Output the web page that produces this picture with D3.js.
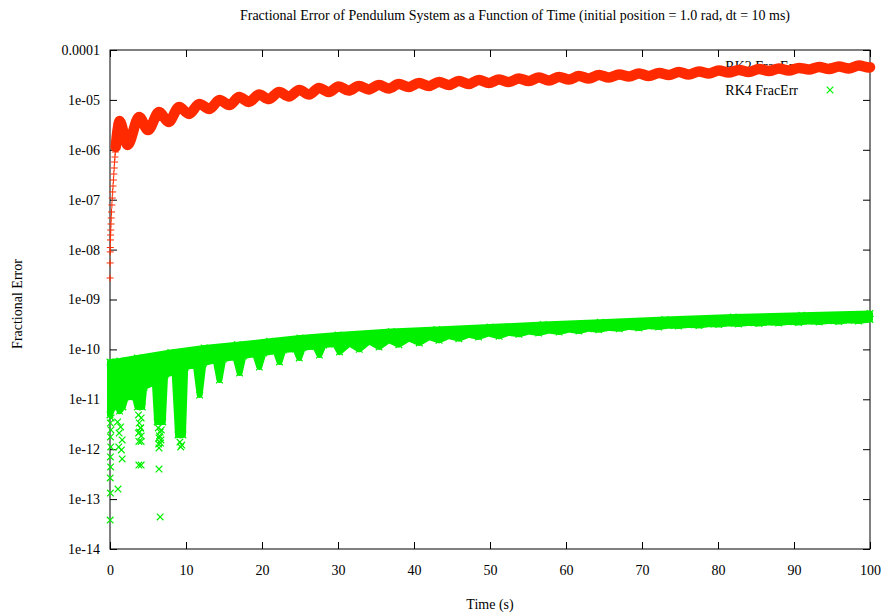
<!DOCTYPE html>
<html>
<head>
<meta charset="utf-8">
<script src="https://cdn.jsdelivr.net/npm/d3@7/dist/d3.min.js"></script>
<style>
  body { margin: 0; background: #fff; }
  svg text { font-family: "Liberation Serif", "Times New Roman", serif !important; fill: #000; }
</style>
</head>
<body>
<svg id="chart" width="884" height="616"></svg>
<script>
// ---- axis ticks ----
const xTicks = [0, 10, 20, 30, 40, 50, 60, 70, 80, 90, 100];
const yTicks = [1e-14, 1e-13, 1e-12, 1e-11, 1e-10, 1e-9, 1e-8, 1e-7, 1e-6, 1e-5, 1e-4];
const yTickLabels = ["1e-14", "1e-13", "1e-12", "1e-11", "1e-10", "1e-09", "1e-08", "1e-07", "1e-06", "1e-05", "0.0001"];

// ---- RK2 fractional error: start-up points, then the oscillating trace ----
const rk2StartT = [0.01, 0.02, 0.03, 0.04, 0.06, 0.08, 0.10, 0.13, 0.16, 0.20, 0.25, 0.30, 0.35, 0.40, 0.45, 0.50, 0.55, 0.60, 0.65, 0.70];
const rk2StartV = [2.7e-9, 5.4e-9, 9.0e-9, 1.1e-8, 1.56e-8, 1.96e-8, 2.47e-8, 3.26e-8, 4.30e-8, 5.67e-8, 7.83e-8, 1.08e-7, 1.43e-7, 1.88e-7, 2.48e-7, 3.27e-7, 4.32e-7, 5.69e-7, 7.17e-7, 9.04e-7];
const rk2T = [0.75, 0.85, 0.95, 1.05, 1.15, 1.25, 2.3, 3.83, 5.0, 6.46, 7.7, 9.1, 10.4, 11.75, 13.1, 14.4, 15.7, 17.0, 18.3,
  19.6, 20.9, 22.25, 23.55, 24.9, 26.2, 27.5, 28.8, 30.1, 31.4, 32.75, 34.05, 35.4, 36.7, 38.0, 39.3, 40.65, 41.95,
  43.3, 44.6, 45.9, 47.2, 48.55, 49.85, 51.2, 52.5, 53.8, 55.1, 56.45, 57.75, 59.1, 60.4, 61.7, 63.0, 64.35, 65.65,
  67.0, 68.3, 69.6, 70.9, 72.25, 73.55, 74.85, 76.15, 77.5, 78.8, 80.1, 81.4, 82.75, 84.05, 85.4, 86.7, 88.0, 89.3,
  90.65, 91.95, 93.3, 94.6, 95.9, 97.2, 98.55, 99.85, 100];
const rk2V = [1.14e-6, 1.6e-6, 2.2e-6, 2.8e-6, 3.4e-6, 3.78e-6, 1.25e-6, 4.54e-6, 2.49e-6, 5.72e-6, 3.61e-6, 7.21e-6, 5.22e-6, 8.28e-6, 6.57e-6, 9.95e-6, 7.90e-6, 1.14e-5, 9.08e-6,
  1.28e-5, 1.04e-5, 1.44e-5, 1.17e-5, 1.58e-5, 1.28e-5, 1.73e-5, 1.44e-5, 1.86e-5, 1.54e-5, 1.90e-5, 1.62e-5, 1.99e-5, 1.69e-5, 2.08e-5, 1.81e-5, 2.18e-5, 1.90e-5,
  2.28e-5, 1.99e-5, 2.39e-5, 2.08e-5, 2.51e-5, 2.18e-5, 2.56e-5, 2.28e-5, 2.69e-5, 2.39e-5, 2.81e-5, 2.45e-5, 2.88e-5, 2.56e-5, 3.01e-5, 2.69e-5, 3.15e-5, 2.81e-5,
  3.23e-5, 2.94e-5, 3.38e-5, 3.01e-5, 3.46e-5, 3.15e-5, 3.62e-5, 3.23e-5, 3.71e-5, 3.38e-5, 3.88e-5, 3.54e-5, 3.97e-5, 3.62e-5, 4.16e-5, 3.80e-5, 4.26e-5, 3.88e-5,
  4.36e-5, 4.07e-5, 4.56e-5, 4.16e-5, 4.67e-5, 4.26e-5, 4.89e-5, 4.46e-5, 4.50e-5];

// ---- RK4 fractional error: upper and lower edge of the dense band ----
const rk4UpperT = [0, 1.3, 3.6, 8, 12.4, 16.75, 21, 25, 30, 37, 43, 50, 57, 64.5, 73, 82, 91, 100];
const rk4UpperV = [5.59e-11, 5.86e-11, 6.73e-11, 8.67e-11, 1.067e-10, 1.242e-10, 1.453e-10, 1.692e-10, 1.943e-10, 2.284e-10, 2.505e-10, 2.811e-10, 3.155e-10, 3.492e-10, 3.973e-10, 4.459e-10, 4.824e-10, 5.242e-10];
const rk4LowerT = [0.0, 0.4, 0.9, 1.25, 1.7, 2.1, 3.3, 3.6, 4.25, 4.5, 5.9, 6.2, 6.95, 7.25, 8.5, 8.95, 9.6, 9.9, 11.3, 11.8, 12.3,
  13.9, 14.4, 14.9, 16.5, 17.05, 17.55, 19.1, 19.65, 20.2, 21.8, 22.3, 22.8, 24.4, 24.9, 25.4, 27.0, 27.55, 28.1, 29.6,
  30.2, 31.5, 32.8, 34.1, 35.4, 36.7, 38.0, 39.35, 40.7, 42.0, 43.3, 44.6, 45.9, 47.2, 48.5, 49.85, 51.2, 52.5, 53.8,
  55.1, 56.4, 57.75, 59.1, 60.4, 61.7, 63.0, 64.3, 65.65, 67.0, 68.3, 69.6, 70.9, 72.2, 73.55, 74.8, 76.15, 77.5, 78.8,
  80.1, 81.4, 82.7, 84.05, 85.4, 86.7, 88.0, 89.3, 90.6, 91.95, 93.3, 94.6, 95.9, 97.2, 98.5, 100];
const rk4LowerV = [4.85e-12, 7.01e-12, 8.83e-12, 5.8e-12, 7.01e-12, 1.112e-11, 1.112e-11, 7.01e-12, 7.01e-12, 1.764e-11, 2.222e-11, 3.51e-12, 3.51e-12, 3.069e-11, 3.525e-11, 1.926e-12, 1.926e-12, 4.439e-11, 4.868e-11, 1.219e-11, 5.339e-11,
  6.132e-11, 2.437e-11, 6.422e-11, 7.042e-11, 3.366e-11, 7.375e-11, 8.088e-11, 4.439e-11, 8.470e-11, 9.288e-11, 5.592e-11, 9.727e-11, 1.019e-10, 6.725e-11, 1.092e-10, 1.143e-10, 7.723e-11, 1.225e-10, 1.283e-10,
  8.870e-11, 1.313e-10, 1.005e-10, 1.440e-10, 1.117e-10, 1.543e-10, 1.242e-10, 1.654e-10, 1.344e-10, 1.756e-10, 1.522e-10, 1.856e-10, 1.638e-10, 1.971e-10, 1.772e-10, 2.083e-10, 1.830e-10, 2.161e-10, 2.007e-10,
  2.284e-10, 2.132e-10, 2.392e-10, 2.232e-10, 2.505e-10, 2.338e-10, 2.599e-10, 2.482e-10, 2.722e-10, 2.599e-10, 2.850e-10, 2.685e-10, 2.944e-10, 2.811e-10, 3.013e-10, 2.944e-10, 3.126e-10, 3.013e-10, 3.229e-10,
  3.155e-10, 3.350e-10, 3.229e-10, 3.428e-10, 3.304e-10, 3.508e-10, 3.381e-10, 3.590e-10, 3.460e-10, 3.674e-10, 3.541e-10, 3.759e-10, 3.623e-10, 3.847e-10, 3.708e-10, 3.974e-10];
// ---- RK4 scattered low points (near the zero crossings) ----
const rk4SparseT = [0.02, 0.05, 0.03, 0.08, 0.05, 0.10, 0.06, 0.12, 0.15, 0.05,
  1.05, 1.6, 1.6, 1.2, 1.4, 1.0, 1.15, 1.5,
  3.8, 4.1, 3.8, 4.1, 3.9, 4.0, 3.75, 4.1, 3.85, 4.05, 3.75, 4.1,
  6.45, 6.6, 6.45, 6.65, 6.45, 6.6, 6.35, 6.75, 6.5, 6.7, 6.4,
  9.2, 9.45, 9.3];
const rk4SparseV = [3.81e-14, 1.32e-13, 2.65e-13, 4.40e-13, 6.98e-13, 1.11e-12, 1.76e-12, 2.43e-12, 4.22e-12, 3.35e-12,
  1.59e-13, 6.37e-13, 1.53e-12, 2.11e-12, 2.79e-12, 3.51e-12, 1.107e-12, 9.64e-13,
  4.82e-13, 4.82e-13, 1.43e-12, 1.43e-12, 2.21e-12, 2.66e-12, 4.85e-12, 4.22e-12, 3.35e-12, 2.66e-12, 2.11e-12, 1.84e-12,
  4.01e-13, 4.38e-14, 1.06e-12, 1.33e-12, 1.68e-12, 2.21e-12, 2.66e-12, 2.43e-12, 1.84e-12, 1.53e-12, 1.27e-12,
  1.39e-12, 1.21e-12, 1.11e-12];

const seriesNames = ["RK2 FracErr", "RK4 FracErr"];
const titleText = "Fractional Error of Pendulum System as a Function of Time (initial position = 1.0 rad, dt = 10 ms)";

// ---- layout ----
const RED = "#ff2a00", GREEN = "#00f000";
const FONT = "Liberation Serif, Times New Roman, serif";
const svg = d3.select("#chart");
const x = d3.scaleLinear().domain([0, 100]).range([110, 870]);
const y = d3.scaleLog().domain([1e-14, 1e-4]).range([549, 50]);
const zip = (ts, vs) => ts.map((t, i) => ({ t, v: vs[i] }));

const plusPath = "M-3.5,0H3.5M0,-3.5V3.5";
const crossPath = "M-3.3,-3.3L3.3,3.3M-3.3,3.3L3.3,-3.3";

// frame
svg.append("rect").attr("x", 110).attr("y", 50).attr("width", 760).attr("height", 499)
  .attr("fill", "none").attr("stroke", "#000").attr("stroke-width", 1);

// axes with inward ticks, mirrored on top/right
const tickLen = 7;
const styleAxis = g => {
  g.attr("font-family", FONT);
  g.select(".domain").remove();
  g.selectAll("text").attr("font-size", 14).style("font-family", FONT);
};
svg.append("g").attr("transform", "translate(0,549)")
  .call(d3.axisBottom(x).tickValues(xTicks).tickFormat(d3.format("d")).tickSizeInner(-tickLen).tickSizeOuter(0).tickPadding(16))
  .call(styleAxis);
svg.append("g").attr("transform", "translate(0,50)")
  .call(d3.axisTop(x).tickValues(xTicks).tickFormat("").tickSizeInner(-tickLen).tickSizeOuter(0))
  .call(styleAxis);
svg.append("g").attr("transform", "translate(110,0)")
  .call(d3.axisLeft(y).tickValues(yTicks).tickFormat((d, i) => yTickLabels[i]).tickSizeInner(-tickLen).tickSizeOuter(0).tickPadding(10))
  .call(styleAxis);
svg.append("g").attr("transform", "translate(870,0)")
  .call(d3.axisRight(y).tickValues(yTicks).tickFormat("").tickSizeInner(-tickLen).tickSizeOuter(0))
  .call(styleAxis);

// titles
svg.append("text").attr("x", 515).attr("y", 20).attr("text-anchor", "middle").attr("font-size", 14).text(titleText);
svg.append("text").attr("x", 490).attr("y", 609).attr("text-anchor", "middle").attr("font-size", 14).text("Time (s)");
svg.append("text").attr("transform", "translate(22,304) rotate(-90)").attr("text-anchor", "middle").attr("font-size", 14).text("Fractional Error");

// ---- key (series drawn on top of it) ----
const key = svg.append("g");
[{ name: seriesNames[0], color: RED, mark: plusPath, yy: 66.5 },
 { name: seriesNames[1], color: GREEN, mark: crossPath, yy: 90 }].forEach(k => {
  key.append("text").attr("x", 798).attr("y", k.yy).attr("dy", "0.35em").attr("text-anchor", "end")
    .attr("font-size", 14).text(k.name);
  key.append("path").attr("d", k.mark).attr("transform", `translate(830,${k.yy})`)
    .attr("stroke", k.color).attr("stroke-width", 1.2).attr("fill", "none");
});

// ---- RK4 band ----
const rk4Upper = zip(rk4UpperT, rk4UpperV);
const rk4Lower = zip(rk4LowerT, rk4LowerV);
const bandLine = d3.line().x(d => x(d.t)).y(d => y(d.v));
svg.append("path")
  .attr("d", bandLine(rk4Upper.concat(rk4Lower.slice().reverse())) + "Z")
  .attr("fill", GREEN).attr("stroke", GREEN).attr("stroke-width", 6).attr("stroke-linejoin", "round");
const rk4Marks = svg.append("g").attr("stroke", GREEN).attr("stroke-width", 1.2).attr("fill", "none");
rk4Marks.selectAll("path.edge").data(rk4Upper.concat(rk4Lower)).join("path").attr("class", "edge")
  .attr("d", crossPath).attr("transform", d => `translate(${x(d.t)},${y(d.v)})`);
rk4Marks.selectAll("path.sparse").data(zip(rk4SparseT, rk4SparseV)).join("path").attr("class", "sparse")
  .attr("d", crossPath).attr("transform", d => `translate(${x(d.t)},${y(d.v)})`);

// ---- RK2 trace ----
const rk2 = zip(rk2T, rk2V);
svg.append("path")
  .attr("d", d3.line().x(d => x(d.t)).y(d => y(d.v)).curve(d3.curveMonotoneX)(rk2))
  .attr("fill", "none").attr("stroke", RED).attr("stroke-width", 10.5)
  .attr("stroke-linejoin", "round").attr("stroke-linecap", "round");
const rk2Marks = svg.append("g").attr("stroke", RED).attr("stroke-width", 1).attr("fill", "none");
rk2Marks.selectAll("path").data(zip(rk2StartT, rk2StartV).concat(rk2)).join("path")
  .attr("d", plusPath).attr("transform", d => `translate(${x(d.t)},${y(d.v)})`);
</script>
</body>
</html>
